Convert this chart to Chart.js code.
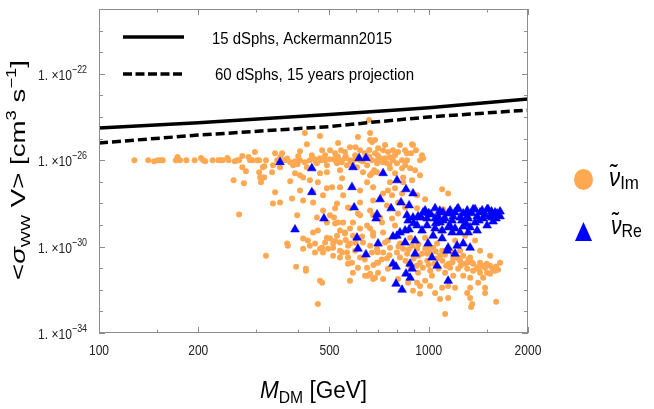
<!DOCTYPE html>
<html lang="en">
<head>
<meta charset="UTF-8">
<style>
  body { margin: 0; background: #fff; }
  canvas { display: block; }
</style>
</head>
<body>
<canvas id="chart" width="654" height="409"></canvas>
<script src="https://cdn.jsdelivr.net/npm/chart.js"></script>
<script>
// limits: [mass in GeV, <sigma v> in cm^3/s]
const ackMass = [100, 200, 500, 800, 1000, 2000];
const ackSigma = [3.1e-25, 5.4e-25, 1.32e-24, 2.1e-24, 2.7e-24, 6.9e-24];
const projMass = [100, 200, 500, 664, 1000, 2000];
const projSigma = [6.3e-26, 1.45e-25, 3.6e-25, 5.6e-25, 1.0e-24, 2.1e-24];

const lineLabels = ['15 dSphs, Ackermann2015', '60 dSphs, 15 years projection'];

// scan points, imaginary sneutrino (orange)
const imPoints = [
  [128,1.0e-26],[141,1.0e-26],[147,9.0e-27],[151,1.0e-26],[154,1.0e-26],[156,1.0e-26],[171,1.0e-26],[173,1.4e-26],
  [176,1.0e-26],[184,1.0e-26],[195,1.0e-26],[204,1.25e-26],[207,1.0e-26],[210,9.0e-27],[221,1.0e-26],[230,1.0e-26],
  [234,1.0e-26],[237,1.0e-26],[245,1.25e-26],[247,1.0e-26],[258,9.0e-27],[263,1.0e-26],[266,1.0e-26],[272,1.55e-26],
  [284,1.4e-26],[287,1.0e-26],[292,1.0e-26],[297,2.4e-26],[302,1.0e-26],[306,1.0e-26],[317,5.2e-27],[321,1.0e-26],
  [272,4.7e-27],[279,3.1e-27],[256,1.17e-27],[275,8.5e-28],[306,2.8e-27],[314,1.6e-27],[310,9.5e-28],[266,3.1e-29],
  [321,3.8e-31],[372,1.38e-30],[374,1.1e-30],[396,1.18e-31],[424,9.5e-32],[424,7.7e-32],[475,2.1e-32],[461,2.2e-33],
  [659,7.2e-25],[421,1.8e-25],[468,1.31e-25],[610,1.18e-25],[664,8.5e-26],[427,5.5e-26],[531,6.2e-26],[577,4.0e-26],
  [542,2.9e-26],[475,2.9e-26],[407,2.6e-26],[342,2.1e-26],[359,2.1e-26],
  [347,1.0e-26],[367,1.0e-26],[380,8.1e-27],[393,9.0e-27],[407,1.0e-26],[421,8.1e-27],[436,1.0e-26],[452,1.11e-26],
  [468,1.24e-26],[485,1.0e-26],[502,1.11e-26],[520,1.24e-26],[538,1.0e-26],[557,1.24e-26],[577,1.0e-26],[598,1.11e-26],
  [619,1.0e-26],[641,1.24e-26],[673,1.0e-26],
  [337,5.8e-27],[354,4.7e-27],[388,5.8e-27],[427,4.7e-27],[458,7.3e-27],[491,5.8e-27],[527,7.3e-27],[565,5.8e-27],
  [606,4.7e-27],[650,5.8e-27],[697,7.3e-27],
  [314,4.7e-27],[308,1.6e-27],[317,1.6e-27],[335,2.8e-27],[393,2.5e-27],[407,2.0e-27],[416,1.6e-27],[468,2.5e-27],
  [491,2.8e-27],[538,3.4e-27],[632,2.8e-27],[664,2.0e-27],[697,2.8e-27],[380,1.05e-27],[436,1.17e-27],[461,9.5e-28],
  [546,1.45e-27],[491,5.0e-28],[509,5.6e-28],[538,5.6e-28],[619,4.0e-28],[650,9.5e-28],[678,5.6e-28],[342,3.3e-28],
  [407,4.0e-28],[446,3.3e-28],[478,2.4e-28],[550,2.4e-28],[337,1.0e-28],[354,1.11e-28],[385,1.7e-28],[416,1.38e-28],
  [446,1.11e-28],[527,1.0e-28],[569,6.5e-29],[619,1.11e-28],[664,4.7e-29],[399,2.8e-29],[478,4.7e-29],[520,5.9e-29],
  [577,5.9e-29],[610,3.4e-29],[678,2.8e-29],
  [664,1.8e-25],[673,6.9e-26],[890,5.5e-26],[915,2.9e-26],[884,2.1e-26],[954,1.7e-26],[961,1.24e-26],[941,1.0e-26],
  [859,2.1e-26],[807,2.4e-26],[779,2.9e-26],[752,2.4e-26],[727,2.9e-26],[702,3.6e-26],[687,2.1e-26],[763,1.38e-26],
  [737,1.24e-26],[712,1.24e-26],[779,1.0e-26],[830,1.0e-26],[859,1.0e-26],[747,7.3e-27],[801,7.3e-27],[848,5.8e-27],
  [830,4.2e-27],[878,4.2e-27],[909,3.4e-27],[683,3.4e-27],[763,4.2e-27],[673,2.5e-27],[790,2.5e-27],[836,1.6e-27],
  [941,2.0e-27],[763,9.5e-28],[836,9.5e-28],[890,1.17e-27],[790,5.0e-28],[752,4.0e-28],[727,2.9e-28],[774,2.4e-28],
  [830,2.9e-28],[922,2.4e-28],[1098,4.5e-28],[1145,2.9e-28],[975,1.54e-28],[678,1.38e-28],[807,1.11e-28],[747,8.1e-29],
  [848,6.5e-29],[922,5.9e-29],[1105,5.3e-29],[807,3.4e-29],[712,2.2e-29],[896,5.0e-26],
  [502,2.9e-26],[557,2.4e-26],[619,2.9e-26],[641,2.1e-26],[598,1.7e-26],[520,2.1e-26],[485,1.7e-26],[442,1.7e-26],
  [402,1.54e-26],[790,1.7e-26],[848,2.9e-26],[818,5.0e-26],[737,5.0e-26],[687,8.5e-26],
  [520,1.0e-26],[545,8.1e-27],[585,8.1e-27],[630,9.0e-27],[660,1.5e-26],[700,1.0e-26],[725,8.0e-27],[760,6.5e-27],
  [700,1.7e-26],[660,3.0e-26],[600,4.0e-26],[560,1.5e-26],[530,1.5e-26],[470,1.0e-26],[455,8.1e-27],[400,6.5e-27],
  [372,1.2e-26],[355,1.4e-26],
  [416,8.0e-31],[416,2.4e-30],[430,1.9e-30],[446,4.5e-30],[436,1.1e-30],[452,1.38e-30],[461,5.5e-30],[452,5.3e-31],
  [468,8.0e-31],[485,1.53e-30],[478,5.3e-31],[502,2.4e-30],[513,8.9e-31],[495,8.0e-31],[527,3.2e-30],[538,1.53e-30],
  [546,5.3e-31],[513,3.8e-31],[538,3.1e-31],[565,5.3e-31],[569,1.1e-30],[557,4.5e-30],[577,6.9e-30],[531,1.3e-29],
  [491,1.3e-29],[589,3.2e-30],[619,6.9e-30],[650,9.5e-30],[678,4.5e-30],[632,1.53e-30],[664,1.1e-30],[585,1.8e-31],
  [569,1.6e-31],[610,1.06e-31],[650,1.06e-31],[654,4.5e-32],[687,3.6e-32],[702,6.2e-32],[619,3.1e-31],[702,1.8e-31],
  [550,1.3e-29],[589,1.3e-29],[458,2.2e-29],[516,2.2e-29],[619,2.8e-29],
  [468,2.6e-32],[502,2.8e-29],[520,1.17e-29],[538,5.5e-30],[557,4.0e-30],[491,2.6e-30],[513,1.38e-30],[475,8.9e-31],
  [538,6.5e-31],[577,1.38e-30],[569,3.1e-31],[678,3.2e-32],[641,4.5e-32],[589,6.2e-32],[577,2.6e-32],
  [664,6.9e-30],[678,3.2e-30],[697,8.0e-31],[727,5.3e-31],[673,5.3e-31],[747,2.8e-31],[697,1.8e-31],[763,8.9e-31],
  [737,1.53e-30],[801,5.3e-31],[818,3.1e-31],[836,8.0e-31],[922,8.0e-31],[954,4.7e-31],[975,8.0e-31],[1009,5.3e-31],
  [1031,8.9e-31],[1060,1.38e-30],[1082,3.8e-31],[1098,6.5e-31],[1177,5.3e-31],[1245,6.5e-31],[1186,2.8e-31],[1245,2.2e-31],
  [1272,3.8e-31],[1335,3.1e-31],[1308,1.8e-31],[1363,1.6e-31],[1431,1.8e-31],[1482,1.06e-31],[1535,1.3e-31],[1623,8.5e-32],
  [1589,7.7e-32],[1503,6.2e-32],[1431,6.2e-32],[1363,7.7e-32],[1308,9.5e-32],[1228,9.5e-32],[1161,1.06e-31],[1121,6.2e-32],
  [1186,4.5e-32],[1272,4.5e-32],[1335,3.6e-32],[1462,3.6e-32],[1535,5.6e-32],[1412,2.1e-32],[1482,1.23e-32],[1335,1.23e-32],
  [1308,7.2e-33],[1202,1.23e-32],[1145,1.5e-32],[1098,1.23e-32],[1045,7.2e-33],[1009,1.5e-32],[941,1.5e-32],[896,9.0e-33],
  [941,6.5e-33],[1023,4.5e-32],[922,2.1e-32],[975,2.6e-32],[928,6.2e-32],[866,2.1e-32],[807,3.2e-32],[727,3.2e-32],
  [752,9.5e-32],[664,5.6e-32],[1082,3.8e-33],[1145,4.2e-33],[1335,4.2e-33],[1354,2.2e-33],[1344,1.6e-33],[1601,2.8e-33],
  [1121,7.6e-34],[1482,7.2e-33],
  [790,9.5e-30],[878,2.6e-30],[975,2.6e-30],[1082,5.5e-30],[1202,1.9e-30],[1289,3.2e-30],[1382,1.9e-30],[1431,6.5e-31],
  [1535,3.8e-31],[1646,1.8e-31],[727,4.5e-30],[752,1.9e-30],[818,1.38e-30],[890,1.1e-30],[598,6.5e-31],[628,2.9e-30],
  [722,1.3e-29],[774,2.0e-29],
  [860,4.7e-31],[900,2.8e-31],[940,1.8e-31],[990,2.2e-31],[1040,1.6e-31],[1100,2.2e-31],[1150,1.6e-31],[870,1.6e-31],
  [960,1.06e-31],[1010,7.7e-32],[1070,9.5e-32],[990,4.7e-31],[1120,4.2e-31],[1200,3.4e-31],[1250,1.3e-31],[1320,2.6e-31],
  [1400,1.1e-31],[1460,1.3e-31],[1050,5.9e-31],[930,3.8e-31],
  [850,2.2e-31],[880,1.2e-31],[920,1.3e-31],[1000,1.4e-31],[1060,2.8e-31],[1130,1.3e-31],[1180,1.9e-31],[1230,2.8e-31],
  [1290,1.6e-31],[1350,1.9e-31],[1420,8.5e-32],[1500,1.6e-31],[1560,1.0e-31],[1600,1.2e-31],[1000,9.5e-31],[930,1.3e-30],
  [870,7.5e-31],[810,1.0e-30],[760,4.0e-31],[720,2.5e-31],[680,1.4e-31],[640,2.5e-31],[700,5.5e-31],[600,1.5e-30],
  [560,2.0e-30],[520,1.8e-30]
];

// scan points, real sneutrino (blue)
const rePoints = [
  [393,6.2e-30],[481,2.0e-29],[354,8.1e-27],[442,4.2e-27],[442,3.3e-28],[589,4.7e-27],[615,1.24e-26],[645,1.24e-26],
  [585,5.6e-28],[594,6.5e-29],[727,2.5e-27],[801,1.17e-27],[712,1.54e-28],[769,5.9e-29],[697,3.1e-29],[853,4.5e-28],
  [896,2.9e-28],[824,1.11e-28],[872,8.1e-29],[859,2.8e-29],[961,3.8e-29],[1045,5.9e-29],[1016,3.1e-29],[1145,3.4e-29],
  [1219,5.3e-29],[1272,3.4e-29],[1363,5.3e-29],[1431,3.8e-29],[1503,5.3e-29],[1589,3.8e-29],[928,2.5e-29],[896,2.2e-29],
  [1067,2.5e-29],[1186,2.5e-29],[1308,2.5e-29],[1402,2.5e-29],[1535,2.5e-29],[1105,3.8e-29],[1161,4.7e-29],[1228,5.9e-29],
  [1308,4.7e-29],[1382,5.3e-29],[1452,4.7e-29],[1514,5.3e-29],[1612,3.4e-29],[1556,2.2e-29],[1462,2.0e-29],[1317,2.0e-29],
  [1245,2.2e-29],[1177,1.6e-29],[1105,1.6e-29],[1045,2.0e-29],[988,2.0e-29],[866,1.6e-29],[922,9.5e-30],[988,9.5e-30],
  [1045,6.9e-30],[1098,5.5e-30],[1145,7.7e-30],[1202,6.9e-30],[1272,8.5e-30],[1335,7.7e-30],[1402,5.5e-30],[1503,9.5e-30],
  [1567,1.45e-29],[1317,4.5e-30],[1245,4.5e-30],[1177,4.5e-30],[954,5.5e-30],[872,6.2e-30],[848,5.5e-30],[818,4.5e-30],
  [779,2.9e-30],[801,3.2e-30],[909,1.9e-30],[848,1.53e-30],[995,1.38e-30],[1098,2.4e-30],[1145,8.9e-31],[1219,1.1e-30],
  [1272,1.38e-30],[1335,8.9e-31],[1137,6.5e-31],[1202,4.7e-31],[1023,3.1e-31],[909,4.7e-31],[779,1.6e-31],[796,1.18e-31],
  [878,1.6e-31],[890,9.5e-32],[853,5.6e-32],[878,3.6e-32],[1060,1.3e-31],[1145,2.6e-32],[796,1.9e-32],[830,1.0e-32],
  [692,2.0e-29],[702,1.38e-30],[1031,3.2e-30],[606,2.6e-30],[610,8.0e-31],[645,4.3e-31],[975,4.7e-29],[1082,1.3e-29],
  [1382,1.3e-29],[1646,4.2e-29],[1646,2.5e-29],
  [1000,3.5e-29],[1120,2.0e-29],[1260,1.6e-29],[1420,1.6e-29],[1600,2.0e-29],[1480,3.0e-29],[1350,3.5e-29],[1200,3.8e-29],
  [1080,4.5e-29],[950,2.2e-29],[1160,9.0e-30],[1300,1.1e-29],[1550,4.2e-29],[1050,1.2e-29],[900,1.2e-29]
];

// axis ticks
const xTickLabels = [100, 200, 500, 1000, 2000];
const xMinorTicks = [150, 300, 400, 600, 700, 800, 900, 1500];
const yTickExp = [-34, -30, -26, -22];
const yMinorExp = [-33, -32, -31, -29, -28, -27, -25, -24, -23, -21, -20, -19];

const FONT = '"Liberation Sans", Arial, sans-serif';
const orange = '#ffa852';
const blue = '#0000ff';

// draws a run of text pieces [text, size, italic, dy], optionally squeezed to a width
function drawRich(ctx, parts, x, y, align, width) {
    let total = 0;
    parts.forEach(p => {
        ctx.font = (p[2] ? 'italic ' : '') + p[1] + 'px ' + FONT;
        p.w = ctx.measureText(p[0]).width;
        total += p.w;
    });
    const sx = width ? width / total : 1;
    let start = x;
    if (align === 'center') start = x - total * sx / 2;
    if (align === 'right') start = x - total * sx;
    ctx.save();
    ctx.translate(start, y);
    ctx.scale(sx, 1);
    ctx.textBaseline = 'alphabetic';
    ctx.textAlign = 'left';
    let cx = 0;
    parts.forEach(p => {
        ctx.font = (p[2] ? 'italic ' : '') + p[1] + 'px ' + FONT;
        ctx.fillText(p[0], cx, p[3] || 0);
        cx += p.w;
    });
    ctx.restore();
}

const decorations = {
    id: 'decorations',
    afterDraw(chart) {
        const ctx = chart.ctx;
        const a = chart.chartArea;
        const xs = chart.scales.x, ys = chart.scales.y;
        ctx.save();

        // frame
        ctx.strokeStyle = '#8c8c8c';
        ctx.lineWidth = 1;
        ctx.strokeRect(a.left + 0.5, a.top + 0.5, a.right - a.left - 1, a.bottom - a.top - 1);

        // ticks on all four sides, pointing inward
        ctx.beginPath();
        const xt = (v, len) => {
            const px = Math.round(xs.getPixelForValue(v)) + 0.5;
            ctx.moveTo(px, a.bottom); ctx.lineTo(px, a.bottom - len);
            ctx.moveTo(px, a.top); ctx.lineTo(px, a.top + len);
        };
        const yt = (e, len) => {
            const py = Math.round(ys.getPixelForValue(Math.pow(10, e))) + 0.5;
            ctx.moveTo(a.left, py); ctx.lineTo(a.left + len, py);
            ctx.moveTo(a.right, py); ctx.lineTo(a.right - len, py);
        };
        xTickLabels.forEach(v => xt(v, 6));
        xMinorTicks.forEach(v => xt(v, 3.5));
        yTickExp.forEach(e => yt(e, 6));
        yMinorExp.forEach(e => yt(e, 4));
        ctx.stroke();

        // tick labels
        ctx.fillStyle = '#222';
        xTickLabels.forEach(v => {
            const px = xs.getPixelForValue(v);
            drawRich(ctx, [[String(v), 14]], px, 355, 'center', String(v).length * 6.7);
        });
        yTickExp.forEach(e => {
            const py = ys.getPixelForValue(Math.pow(10, e));
            drawRich(ctx, [['1. \u00d710', 15], ['\u2212' + Math.abs(e), 11, false, -7]], 87, py + 6, 'right', 49);
        });

        // axis titles
        ctx.fillStyle = '#000';
        drawRich(ctx, [['M', 23, true], ['DM', 16, false, 5], [' [GeV]', 23]], 313.5, 398, 'center', 107);
        ctx.save();
        ctx.translate(25, 170);
        ctx.rotate(-Math.PI / 2);
        drawRich(ctx, [['<', 21], ['\u03c3', 21, true], ['WW', 13, false, 5], [' V> [cm', 21],
            ['3', 14, false, -9], [' s', 21], ['\u22121', 14, false, -9], [']', 21]], 0, 0, 'center', 220);
        ctx.restore();

        // legend inside the frame
        ctx.strokeStyle = '#000';
        ctx.lineWidth = 3.5;
        ctx.beginPath(); ctx.moveTo(123, 37); ctx.lineTo(184, 37); ctx.stroke();
        ctx.setLineDash([9, 3.5]);
        ctx.beginPath(); ctx.moveTo(123, 74); ctx.lineTo(183, 74); ctx.stroke();
        ctx.setLineDash([]);
        drawRich(ctx, [[lineLabels[0], 16]], 212, 44, 'left', 180);
        drawRich(ctx, [[lineLabels[1], 16]], 215, 80, 'left', 199);

        // legend on the right
        ctx.fillStyle = orange;
        ctx.beginPath(); ctx.ellipse(583.5, 179.5, 9.5, 10.5, 0, 0, Math.PI * 2); ctx.fill();
        ctx.fillStyle = blue;
        ctx.beginPath(); ctx.moveTo(575, 241); ctx.lineTo(592, 241); ctx.lineTo(583.5, 222); ctx.closePath(); ctx.fill();
        ctx.fillStyle = '#000';
        drawRich(ctx, [['\u03bd\u0303', 25, true], ['Im', 19, false, 3]], 609, 186, 'left', 30);
        drawRich(ctx, [['\u03bd\u0303', 25, true], ['Re', 19, false, 3]], 611, 234, 'left', 31);

        ctx.restore();
    }
};

const ctx = document.getElementById('chart').getContext('2d');
const chart = new Chart(ctx, {
    type: 'scatter',
    data: {
        datasets: [
            {
                label: 'Re',
                data: rePoints.map(p => ({ x: p[0], y: p[1] })),
                pointStyle: 'triangle',
                pointRadius: 5,
                backgroundColor: blue,
                borderColor: blue,
                borderWidth: 0.6,
                order: 0
            },
            {
                label: lineLabels[0],
                data: ackMass.map((m, i) => ({ x: m, y: ackSigma[i] })),
                showLine: true,
                borderColor: '#000',
                borderWidth: 3.5,
                pointRadius: 0,
                order: 1
            },
            {
                label: lineLabels[1],
                data: projMass.map((m, i) => ({ x: m, y: projSigma[i] })),
                showLine: true,
                borderColor: '#000',
                borderWidth: 3.5,
                borderDash: [9, 4],
                pointRadius: 0,
                order: 1
            },
            {
                label: 'Im',
                data: imPoints.map(p => ({ x: p[0], y: p[1] })),
                pointStyle: 'circle',
                pointRadius: 3,
                backgroundColor: orange,
                borderWidth: 0,
                order: 2
            }
        ]
    },
    options: {
        responsive: false,
        animation: false,
        devicePixelRatio: 1,
        layout: { padding: { left: 0, right: 126, top: 9, bottom: 0 } },
        plugins: { legend: { display: false }, tooltip: { enabled: false } },
        scales: {
            x: {
                type: 'logarithmic', min: 100, max: 2000,
                grid: { display: false }, border: { display: false },
                ticks: { display: false },
                afterFit(s) { s.height = 76; }
            },
            y: {
                type: 'logarithmic', min: 1e-34, max: 1e-19,
                grid: { display: false }, border: { display: false },
                ticks: { display: false },
                afterFit(s) { s.width = 99; }
            }
        }
    },
    plugins: [decorations]
});
</script>
</body>
</html>
